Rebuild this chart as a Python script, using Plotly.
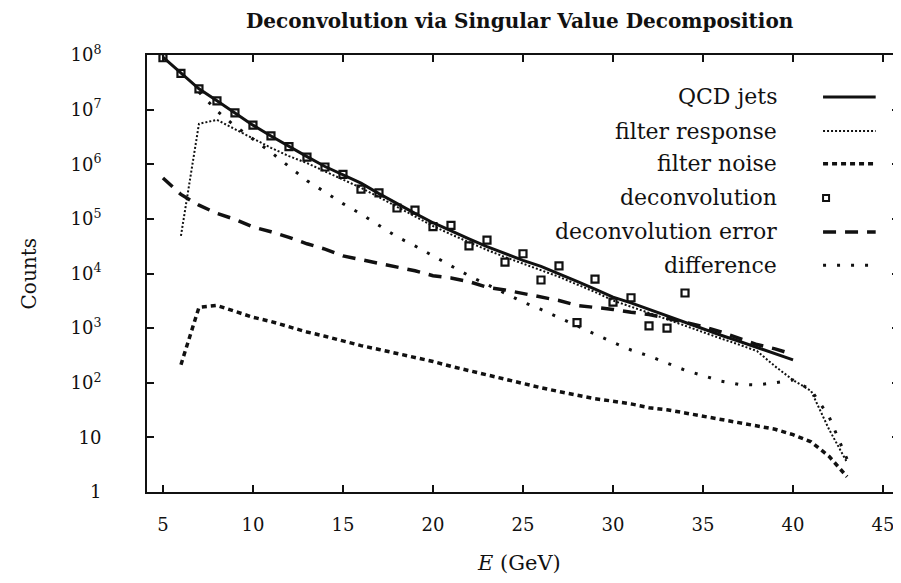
import plotly.graph_objects as go

# energies (GeV)
E_QCD = list(range(5, 41))
E_FILTER = list(range(6, 44))
E_DECONV = list(range(5, 35))
E_ERROR = list(range(5, 41))
E_DIFF = list(range(7, 44))

qcd_jets = [9.1e7, 4.6e7, 2.4e7, 1.45e7, 8.7e6, 5.2e6, 3.3e6, 2.1e6, 1.38e6, 9.1e5,
            6.3e5, 4.5e5, 2.9e5, 1.9e5, 1.26e5, 8.5e4, 6.0e4, 4.3e4, 3.1e4, 2.3e4,
            1.74e4, 1.35e4, 1.0e4, 7.2e3, 5.2e3, 3.7e3, 2.9e3, 2.2e3, 1.66e3, 1.26e3,
            980, 740, 575, 447, 339, 263]

filter_response = [4.9e4, 5.5e6, 6.5e6, 4.4e6, 2.9e6, 2.0e6, 1.41e6, 1.05e6, 7.4e5, 5.2e5,
                   3.7e5, 2.5e5, 1.66e5, 1.10e5, 7.4e4, 5.2e4, 3.7e4, 2.7e4, 2.0e4, 1.51e4,
                   1.17e4, 8.7e3, 6.3e3, 4.6e3, 3.2e3, 2.5e3, 1.9e3, 1.45e3, 1.10e3, 850,
                   645, 500, 380, 200, 112, 71, 14, 3.5]

filter_noise = [214, 2.4e3, 2.6e3, 2.0e3, 1.58e3, 1.32e3, 1.05e3, 850, 710, 575,
                479, 407, 347, 295, 245, 200, 166, 138, 115, 95,
                81, 69, 59, 51, 46, 41, 35, 32, 28, 24.5,
                21.4, 18.6, 16.2, 14.1, 11.2, 8.3, 4.5, 1.9]

deconvolution = [8.9e7, 4.6e7, 2.4e7, 1.45e7, 8.7e6, 5.2e6, 3.3e6, 2.1e6, 1.35e6, 8.9e5,
                 6.5e5, 3.5e5, 3.0e5, 1.58e5, 1.45e5, 7.2e4, 7.6e4, 3.2e4, 4.1e4, 1.62e4,
                 2.3e4, 7.6e3, 1.38e4, 1.26e3, 7.9e3, 3.0e3, 3.6e3, 1.10e3, 1.0e3, 4.4e3]

deconvolution_error = [5.6e5, 2.8e5, 1.78e5, 1.26e5, 9.8e4, 7.1e4, 5.8e4, 4.6e4, 3.5e4, 2.8e4,
                       2.1e4, 1.78e4, 1.55e4, 1.29e4, 1.12e4, 9.1e3, 8.3e3, 7.1e3, 5.6e3, 5.0e3,
                       4.3e3, 3.6e3, 3.2e3, 2.6e3, 2.4e3, 2.2e3, 1.95e3, 1.78e3, 1.51e3, 1.26e3,
                       1.07e3, 850, 645, 500, 417, 331]

difference = [2.1e7, 9.5e6, 5.0e6, 2.9e6, 1.66e6, 9.1e5, 5.0e5, 3.1e5, 1.9e5, 1.23e5,
              7.6e4, 4.7e4, 3.2e4, 2.1e4, 1.35e4, 9.1e3, 6.3e3, 4.4e3, 3.0e3, 2.2e3,
              1.55e3, 1.10e3, 794, 550, 398, 309, 229, 170, 135, 107,
              93, 91, 100, 112, 74, 24, 4.0]

x_ticks = [5, 10, 15, 20, 25, 30, 35, 40, 45]
y_ticks = [1, 10, 1e2, 1e3, 1e4, 1e5, 1e6, 1e7, 1e8]
y_tick_text = ['1', '10', '10<sup>2</sup>', '10<sup>3</sup>', '10<sup>4</sup>',
               '10<sup>5</sup>', '10<sup>6</sup>', '10<sup>7</sup>', '10<sup>8</sup>']

SERIF = 'DejaVu Serif'
INK = '#111111'

STYLES = [
    # name, dash, width
    ('QCD jets', 'solid', 3),
    ('filter response', '2px,2px', 2),
    ('filter noise', '5px,4px', 3.5),
    ('deconvolution', None, None),
    ('deconvolution error', '13px,9px', 3.5),
    ('difference', '3px,11px', 3),
]

fig = go.Figure()

line_data = {
    'QCD jets': (E_QCD, qcd_jets),
    'filter response': (E_FILTER, filter_response),
    'filter noise': (E_FILTER, filter_noise),
    'deconvolution error': (E_ERROR, deconvolution_error),
    'difference': (E_DIFF, difference),
}

for name, dash, width in STYLES:
    if name == 'deconvolution':
        fig.add_trace(go.Scatter(
            x=E_DECONV, y=deconvolution, mode='markers', name=name,
            marker={'symbol': 'square-open', 'size': 7, 'color': INK,
                    'line': {'width': 2.2, 'color': INK}},
        ))
        continue
    xs, ys = line_data[name]
    fig.add_trace(go.Scatter(
        x=xs, y=ys, mode='lines', name=name,
        line={'color': INK, 'width': width, 'dash': dash},
    ))

# legend drawn by hand: text right-aligned, sample to the right
legend_y = [0.904, 0.826, 0.751, 0.673, 0.595, 0.519]
annotations = []
shapes = []
for (name, dash, width), ly in zip(STYLES, legend_y):
    annotations.append(dict(
        text=name, xref='paper', yref='paper', x=0.84, y=ly,
        xanchor='right', yanchor='middle', showarrow=False,
        font={'family': SERIF, 'size': 22, 'color': INK},
    ))
    if dash is None:
        shapes.append(dict(
            type='rect', xref='paper', yref='paper',
            xsizemode='pixel', ysizemode='pixel',
            xanchor=0.903, yanchor=ly, x0=-3, x1=3, y0=-3, y1=3,
            line={'color': INK, 'width': 2},
        ))
    else:
        shapes.append(dict(
            type='line', xref='paper', yref='paper',
            x0=0.899, x1=0.969, y0=ly, y1=ly,
            line={'color': INK, 'width': width, 'dash': dash},
        ))

annotations.append(dict(
    text='<i>E</i> (GeV)', xref='paper', yref='paper', x=0.495, y=-0.162,
    xanchor='center', yanchor='middle', showarrow=False,
    font={'family': SERIF, 'size': 21, 'color': INK},
))
annotations.append(dict(
    text='Counts', xref='paper', yref='paper', x=-0.157, y=0.5, textangle=-90,
    xanchor='center', yanchor='middle', showarrow=False,
    font={'family': SERIF, 'size': 20, 'color': INK},
))

axis_common = dict(
    showline=True, linecolor=INK, linewidth=2, mirror='ticks',
    ticks='inside', ticklen=7, tickwidth=2, tickcolor=INK,
    showgrid=False, zeroline=False,
    tickfont={'family': SERIF, 'size': 18, 'color': INK},
)

# page has an 8px body margin, so the figure is sized to fit the window
fig.update_layout(
    width=893, height=575,
    margin={'l': 139, 'r': 0, 't': 47, 'b': 91},
    paper_bgcolor='white', plot_bgcolor='white',
    showlegend=False,
    title={'text': '<b>Deconvolution via Singular Value Decomposition</b>',
           'x': 0.573, 'xanchor': 'center', 'y': 0.99, 'yanchor': 'top',
           'font': {'family': SERIF, 'size': 20, 'color': INK}},
    xaxis=dict(axis_common, range=[4.114, 45.886], tickvals=x_ticks,
               ticklabelstandoff=15),
    yaxis=dict(axis_common, type='log', range=[0, 8], tickvals=y_ticks,
               ticktext=y_tick_text, ticklabelstandoff=40),
    annotations=annotations,
    shapes=shapes,
)

fig.write_html('out.html')
